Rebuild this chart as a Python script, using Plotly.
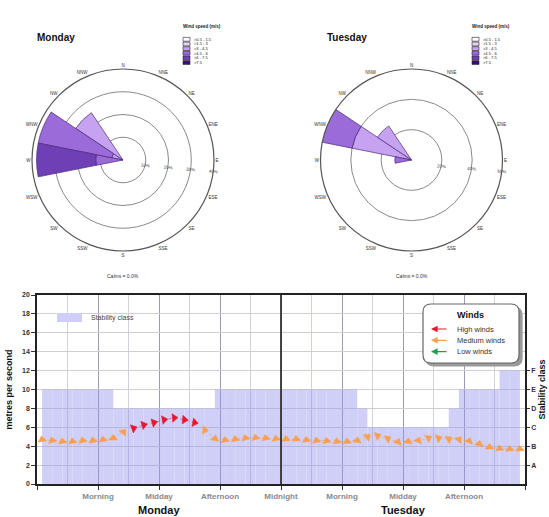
import plotly.graph_objects as go
import numpy as np

FONT = "Liberation Sans"

# ---------------- wind rose data ----------------
directions = ["N", "NNE", "NE", "ENE", "E", "ESE", "SE", "SSE",
              "S", "SSW", "SW", "WSW", "W", "WNW", "NW", "NNW"]
speed_bins = [">0.5 - 1.5", ">1.5 - 3", ">3 - 4.5", ">4.5 - 6", ">6 - 7.5", ">7.5"]
bin_colors = ["#ffffff", "#e4d3f7", "#c6a2f0", "#9a6bd9", "#6f3fb5", "#3d0f73"]

mon_dirs = ["W", "WNW", "NW"]
mon_3_45 = [0, 5, 25]
mon_45_6 = [12, 33, 0]
mon_6_75 = [26, 0, 0]
mon_ticks = [10, 20, 30, 40]

tue_dirs = ["W", "WNW", "NW"]
tue_3_45 = [0, 40, 27]
tue_45_6 = [11, 22, 0]
tue_ticks = [20, 40, 60]

# ---------------- time series data ----------------
x_tick_hours = [0, 6, 12, 18, 24, 30, 36, 42, 48]
x_tick_text = ["", "Morning", "Midday", "Afternoon", "Midnight",
               "Morning", "Midday", "Afternoon", ""]
day_names = ["Monday", "Tuesday"]
day_centres = [12, 36]

stab_hours = list(range(1, 48))
stab_class = list("EEEEEEEDDDDDDDDDDEEEEEEEEEEEEEEDCCCCCCCCDEEEEFF")
class_letters = ["A", "B", "C", "D", "E", "F"]
class_levels = [2, 4, 6, 8, 10, 12]

wind_hours = [k + 0.5 for k in range(48)]
wind_speed = [4.7, 4.6, 4.5, 4.5, 4.6, 4.6, 4.7, 4.85, 5.5,
              5.9, 6.25, 6.5, 6.8, 7.0, 6.8, 6.5,
              5.7, 4.8, 4.65, 4.75, 4.85, 4.9, 4.85, 4.8, 4.75, 4.75,
              4.65, 4.6, 4.55, 4.5, 4.5, 4.6, 5.0, 5.1, 4.8, 4.45,
              4.5, 4.6, 4.85, 4.85, 4.75, 4.7, 4.55, 4.25, 3.9, 3.75, 3.7, 3.7]
wind_angle = [-10, -15, -10, -10, -15, -10, -10, 0, 40,
              70, 75, 75, 80, 85, 95, 100,
              95, 10, -10, -10, -15, -15, -10, -10, -5, -5,
              -5, -10, -10, -10, -5, 10, 50, 70, 60, 20,
              10, 20, 60, 70, 60, 40, 20, 10, 0, -5, -5, -5]
wind_cat = (["Medium"] * 9 + ["High"] * 7 + ["Medium"] * 32)
wind_cats = ["High", "Medium", "Low"]
wind_labels = ["High winds", "Medium winds", "Low winds"]
wind_colors = {"High": "#e8162e", "Medium": "#f8a04f", "Low": "#1fa04a"}

fig = go.Figure()

# ---------------- wind roses ----------------
dir_angle = {d: 22.5 * i for i, d in enumerate(directions)}


def add_rose(dirs, bins, subplot):
    for bi, vals in bins:
        fig.add_trace(go.Barpolar(
            theta=[dir_angle[d] for d in dirs], r=vals, width=22.5,
            marker=dict(color=bin_colors[bi], line=dict(color="#4a2a7a", width=0.7)),
            subplot=subplot, showlegend=False, name=speed_bins[bi]))


add_rose(mon_dirs, [(2, mon_3_45), (3, mon_45_6), (4, mon_6_75)], "polar")
add_rose(tue_dirs, [(2, tue_3_45), (3, tue_45_6)], "polar2")


def polar_layout(domx, domy, ticks):
    return dict(
        domain=dict(x=domx, y=domy),
        bgcolor="white",
        barmode="stack",
        angularaxis=dict(direction="clockwise", rotation=90, thetaunit="degrees",
                         tickmode="array", tickvals=[dir_angle[d] for d in directions],
                         ticktext=directions, showgrid=False, ticks="",
                         showline=True, linecolor="#555", linewidth=1.2,
                         tickfont=dict(size=4.5, color="#333", family=FONT)),
        radialaxis=dict(range=[0, ticks[-1]], tickmode="array", tickvals=ticks,
                        ticktext=[f"{t}%" for t in ticks], side="clockwise",
                        showline=False, ticks="", angle=-5, tickangle=0,
                        gridcolor="#8a8a8a", gridwidth=1,
                        tickfont=dict(size=4.5, color="#444", family=FONT)),
    )


W, H = 549, 517


def px(x):
    return x / W


def py(y):
    return 1 - y / H


R = 91
fig.update_layout(
    polar=polar_layout([px(123 - R), px(123 + R)], [py(160 + R), py(160 - R)], mon_ticks),
    polar2=polar_layout([px(411.5 - R), px(411.5 + R)], [py(160 + R), py(160 - R)], tue_ticks),
)

annotations = []
shapes = []

for title, tx, lx, cx in [("Monday", 35, 183, 123), ("Tuesday", 325, 472, 411.5)]:
    annotations.append(dict(x=px(tx), y=py(38), xref="paper", yref="paper", text="<b>" + title + "</b>",
                            showarrow=False, xanchor="left", yanchor="middle",
                            font=dict(size=10, family=FONT, color="#111")))
    annotations.append(dict(x=px(lx - 2), y=py(27), xref="paper", yref="paper",
                            text="<b>Wind speed (m/s)</b>", showarrow=False,
                            xanchor="left", yanchor="middle",
                            font=dict(size=4.5, family=FONT, color="#222")))
    for i, lab in enumerate(speed_bins):
        yc = 39.3 + 4.65 * i
        shapes.append(dict(type="rect", xref="paper", yref="paper",
                           x0=px(lx), x1=px(lx + 7), y0=py(yc + 1.9), y1=py(yc - 1.9),
                           fillcolor=bin_colors[i], line=dict(color="#222", width=0.6)))
        annotations.append(dict(x=px(lx + 8.5), y=py(yc), xref="paper", yref="paper",
                                text=lab, showarrow=False, xanchor="left", yanchor="middle",
                                font=dict(size=4, family=FONT, color="#222")))
    annotations.append(dict(x=px(cx), y=py(276), xref="paper", yref="paper",
                            text="Calms = 0.0%", showarrow=False, xanchor="center",
                            yanchor="middle", font=dict(size=5, family=FONT, color="#333")))

# ---------------- time series ----------------
stab_y = [class_levels[class_letters.index(c)] for c in stab_class]
fig.add_trace(go.Bar(
    x=stab_hours, y=stab_y,
    width=1, marker=dict(color="rgb(150,150,238)", line=dict(width=0)),
    opacity=0.45, showlegend=False, xaxis="x", yaxis="y", name="Stability class"))
# invisible companion on the stability-class axis so that axis is drawn
fig.add_trace(go.Scatter(x=stab_hours, y=stab_y, mode="lines", line=dict(width=0),
                         opacity=0, hoverinfo="skip", showlegend=False,
                         xaxis="x", yaxis="y2"))

for cat in wind_cats:
    ys = [s if c == cat else None for s, c in zip(wind_speed, wind_cat)]
    angs = [a for a, c in zip(wind_angle, wind_cat) if c == cat]
    xs = [h for h, c in zip(wind_hours, wind_cat) if c == cat]
    fig.add_trace(go.Scatter(
        x=wind_hours, y=ys, mode="lines", connectgaps=False,
        line=dict(color=wind_colors[cat], width=1, dash="dot"),
        opacity=0.5, showlegend=False, xaxis="x", yaxis="y", hoverinfo="skip"))
    fig.add_trace(go.Scatter(
        x=xs, y=[s for s, c in zip(wind_speed, wind_cat) if c == cat], mode="markers",
        marker=dict(symbol="triangle-up", size=7.5, angle=angs, color=wind_colors[cat],
                    line=dict(color=wind_colors[cat], width=0.5)),
        showlegend=False, xaxis="x", yaxis="y", name=cat))

xdom = [px(37), px(525)]
ydom = [py(484), py(295)]

fig.update_layout(
    xaxis=dict(domain=xdom, range=[0, 48], tickmode="array", tickvals=x_tick_hours,
               ticktext=x_tick_text, ticks="outside", ticklen=4, tickcolor="#333",
               showline=True, linecolor="#222", linewidth=1.5, mirror=True,
               showgrid=True, gridcolor="#9a9ab8", gridwidth=1,
               minor=dict(dtick=3, tick0=0, showgrid=True, gridcolor="#d2d2dc", gridwidth=1),
               tickfont=dict(size=8, color="#8a8a8a", family=FONT, weight="bold"),
               zeroline=False, automargin=False, anchor="y", fixedrange=True),
    yaxis=dict(domain=ydom, range=[0, 20], dtick=2, tick0=0, ticks="outside", ticklen=4,
               tickcolor="#333", showline=True, linecolor="#222", linewidth=1.5,
               showgrid=True, gridcolor="#d0d0d0", gridwidth=1, zeroline=False,
               tickfont=dict(size=7, color="#333", family=FONT, weight="bold"),
               title=dict(text="metres per second", standoff=8,
                          font=dict(size=9, color="#111", family=FONT, weight="bold")),
               automargin=False, anchor="x"),
    yaxis2=dict(overlaying="y", side="right", range=[0, 20], tickmode="array",
                tickvals=class_levels, ticktext=class_letters, ticks="outside", ticklen=3,
                tickcolor="#333", showline=True, linecolor="#222", linewidth=1.5,
                showgrid=False, zeroline=False, anchor="x",
                tickfont=dict(size=7, color="#333", family=FONT, weight="bold"),
                title=dict(text="Stability class", standoff=3,
                           font=dict(size=9, color="#111", family=FONT, weight="bold")),
                automargin=False),
)

# midnight divider
shapes.append(dict(type="line", xref="x", yref="y domain", x0=24, x1=24, y0=0, y1=1,
                   line=dict(color="#333", width=1.8), layer="above"))

for name, xc in zip(day_names, day_centres):
    annotations.append(dict(x=xc, y=py(510), xref="x", yref="paper", text="<b>" + name + "</b>",
                            showarrow=False, xanchor="center", yanchor="middle",
                            font=dict(size=11, family=FONT, color="#111")))

# stability legend
shapes.append(dict(type="rect", xref="paper", yref="paper", x0=px(57), x1=px(82),
                   y0=py(322), y1=py(313), fillcolor="rgb(206,206,248)", line=dict(width=0)))
annotations.append(dict(x=px(89), y=py(317.5), xref="paper", yref="paper",
                        text="Stability class", showarrow=False, xanchor="left", yanchor="middle",
                        font=dict(size=7, family=FONT, color="#444")))


# winds legend (rounded box with shadow)
def rounded_path(x0, y0, x1, y1, r):
    Y0, Y1 = -y0, -y1
    return (f"M {x0 + r},{Y0} L {x1 - r},{Y0} Q {x1},{Y0} {x1},{Y0 - r} "
            f"L {x1},{Y1 + r} Q {x1},{Y1} {x1 - r},{Y1} L {x0 + r},{Y1} "
            f"Q {x0},{Y1} {x0},{Y1 + r} L {x0},{Y0 - r} Q {x0},{Y0} {x0 + r},{Y0} Z")


for off, fill, lc in [(3, "#9a9a9a", "#9a9a9a"), (0, "white", "#666")]:
    shapes.append(dict(type="path", xref="paper", yref="paper", xsizemode="pixel",
                       ysizemode="pixel", xanchor=0, yanchor=1,
                       path=rounded_path(423 + off, 304 + off, 519 + off, 363 + off, 8),
                       fillcolor=fill, line=dict(color=lc, width=1.2), layer="above"))

annotations.append(dict(x=px(470), y=py(315), xref="paper", yref="paper", text="<b>Winds</b>",
                        showarrow=False, xanchor="center", yanchor="middle",
                        font=dict(size=9, family=FONT, color="#111")))
for i, (cat, lab) in enumerate(zip(wind_cats, wind_labels)):
    yc = 329 + 11.3 * i
    annotations.append(dict(x=px(431), y=py(yc), xref="paper", yref="paper", text="",
                            showarrow=True, ax=17, ay=0, arrowhead=2, arrowsize=1.1,
                            arrowwidth=1.2, arrowcolor=wind_colors[cat]))
    annotations.append(dict(x=px(455), y=py(yc), xref="paper", yref="paper", text=lab,
                            showarrow=False, xanchor="left", yanchor="middle",
                            font=dict(size=7.5, family=FONT, color="#333")))

fig.update_layout(
    width=W, height=H, margin=dict(l=0, r=0, t=0, b=0),
    paper_bgcolor="white", plot_bgcolor="white",
    shapes=shapes, annotations=annotations, showlegend=False,
    font=dict(family=FONT),
)

fig.write_html("out.html", config={"displayModeBar": False},
               post_script="document.body.style.margin='0';document.body.style.overflow='hidden';")
